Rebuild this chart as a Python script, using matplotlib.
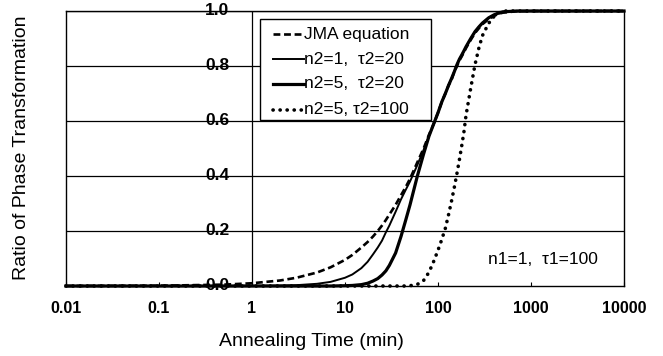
import matplotlib
matplotlib.use("Agg")
import matplotlib.pyplot as plt
from matplotlib.lines import Line2D
from matplotlib.patches import Rectangle

plt.rcParams['font.family'] = ['Liberation Sans', 'DejaVu Sans']

# ---- data ----
t = [0.01, 0.1, 0.5, 1, 2, 3, 5, 7, 10, 12, 15, 17.5, 20, 22.5, 25, 27.5, 30, 35, 40,
     45, 50, 60, 70, 80, 90, 100, 110, 120, 130, 140, 150, 160, 170, 180, 190, 200,
     225, 250, 275, 300, 350, 400, 450, 500, 700, 1000, 10000]

jma = [0.0001, 0.001, 0.005, 0.01, 0.02, 0.03, 0.049, 0.068, 0.095, 0.113, 0.14, 0.16,
       0.18, 0.20, 0.22, 0.24, 0.26, 0.295, 0.33, 0.36, 0.39, 0.45, 0.50, 0.55, 0.59,
       0.63, 0.67, 0.70, 0.73, 0.75, 0.78, 0.80, 0.82, 0.835, 0.85, 0.865, 0.895, 0.92,
       0.937, 0.952, 0.97, 0.982, 0.99, 0.994, 0.999, 1.0, 1.0]

n1_t20 = [0.0, 0.0, 0.0002, 0.0005, 0.0015, 0.003, 0.008, 0.015, 0.03, 0.042, 0.065,
          0.088, 0.115, 0.14, 0.165, 0.195, 0.22, 0.27, 0.315, 0.35, 0.38, 0.44, 0.495,
          0.545, 0.59, 0.63, 0.67, 0.70, 0.73, 0.755, 0.78, 0.805, 0.825, 0.84, 0.855,
          0.87, 0.90, 0.925, 0.942, 0.956, 0.975, 0.986, 0.993, 0.997, 1.0, 1.0, 1.0]

n5_t20 = [0.0, 0.0, 0.0, 0.0, 0.0, 0.0, 0.0, 0.0, 0.001, 0.002, 0.005, 0.01, 0.018,
          0.027, 0.04, 0.055, 0.075, 0.12, 0.18, 0.24, 0.295, 0.40, 0.48, 0.545, 0.59,
          0.63, 0.67, 0.70, 0.73, 0.755, 0.78, 0.805, 0.825, 0.84, 0.855, 0.87, 0.90,
          0.925, 0.942, 0.956, 0.975, 0.986, 0.993, 0.997, 1.0, 1.0, 1.0]

n5_t100 = [0.0, 0.0, 0.0, 0.0, 0.0, 0.0, 0.0, 0.0, 0.0, 0.0, 0.0, 0.0, 0.0, 0.0, 0.0,
           0.0, 0.0, 0.0, 0.0, 0.0, 0.001, 0.006, 0.02, 0.05, 0.09, 0.13, 0.17, 0.21,
           0.26, 0.31, 0.36, 0.41, 0.46, 0.51, 0.56, 0.62, 0.72, 0.805, 0.865, 0.91,
           0.955, 0.98, 0.993, 1.0, 1.0, 1.0, 1.0]

labels = ["JMA equation", "n2=1,  τ2=20", "n2=5,  τ2=20", "n2=5, τ2=100"]
note = "n1=1,  τ1=100"
xticks = [0.01, 0.1, 1, 10, 100, 1000, 10000]
xticklabels = ["0.01", "0.1", "1", "10", "100", "1000", "10000"]
yticks = [0.0, 0.2, 0.4, 0.6, 0.8, 1.0]
yticklabels = ["0.0", "0.2", "0.4", "0.6", "0.8", "1.0"]

W, H = 663, 356


def fx(px):
    return px / W


def fy(py):
    return 1 - py / H


styles = [
    dict(color='black', lw=1.9, ls=(0, (2.6, 1.4))),
    dict(color='black', lw=1.4, ls='-'),
    dict(color='black', lw=2.3, ls='-'),
    dict(color='black', lw=2.6, ls=(0, (0.05, 1.9)), dash_capstyle='round'),
]
series = [jma, n1_t20, n5_t20, n5_t100]

fig = plt.figure(figsize=(W / 100, H / 100), dpi=100)
ax = fig.add_axes([fx(66), fy(286), 558 / W, 275 / H])
ax.set_xscale('log')
ax.set_xlim(0.01, 10000)
ax.set_ylim(0, 1)

for y in yticks[1:]:
    ax.axhline(y, color='black', lw=0.9, zorder=1)
ax.axvline(1, color='black', lw=0.9, zorder=1)
for s in ax.spines.values():
    s.set_color('black')
    s.set_linewidth(1.0)

for ys, st in zip(series, styles):
    ax.plot(t, ys, zorder=3, clip_on=False, **st)

ax.set_xticks(xticks)
ax.set_xticklabels(xticklabels, fontsize=11.5, fontweight='bold')
ax.minorticks_off()
ax.tick_params(axis='x', direction='in', length=3, width=0.8, pad=11)
ax.set_yticks([])

for y, lab in zip(yticks, yticklabels):
    ax.text(0.57, y, lab, ha='right', va='center', fontsize=12.5, fontweight='bold',
            zorder=4)

fig.text(fx(311), fy(342), "Annealing Time (min)", ha='center', va='center',
         fontsize=14)
fig.text(fx(22), fy(148), "Ratio of Phase Transformation", ha='center',
         va='center', rotation=90, fontsize=14)

fig.text(fx(543), fy(260), note, ha='center', va='center', fontsize=12.5)

# legend box (drawn like the spreadsheet legend)
fig.add_artist(Rectangle((fx(260), fy(120)), (431 - 260) / W, (120 - 19) / H,
                         transform=fig.transFigure, facecolor='white',
                         edgecolor='black', lw=1.0, zorder=5))
rows = [34, 59, 84, 110]
for py, lab, st in zip(rows, labels, styles):
    fig.add_artist(Line2D([fx(273), fx(304)], [fy(py), fy(py)],
                          transform=fig.transFigure, zorder=6, **st))
    fig.text(fx(304), fy(py), lab, ha='left', va='center', fontsize=12.5, zorder=6)

fig.savefig("out.png", dpi=100)
